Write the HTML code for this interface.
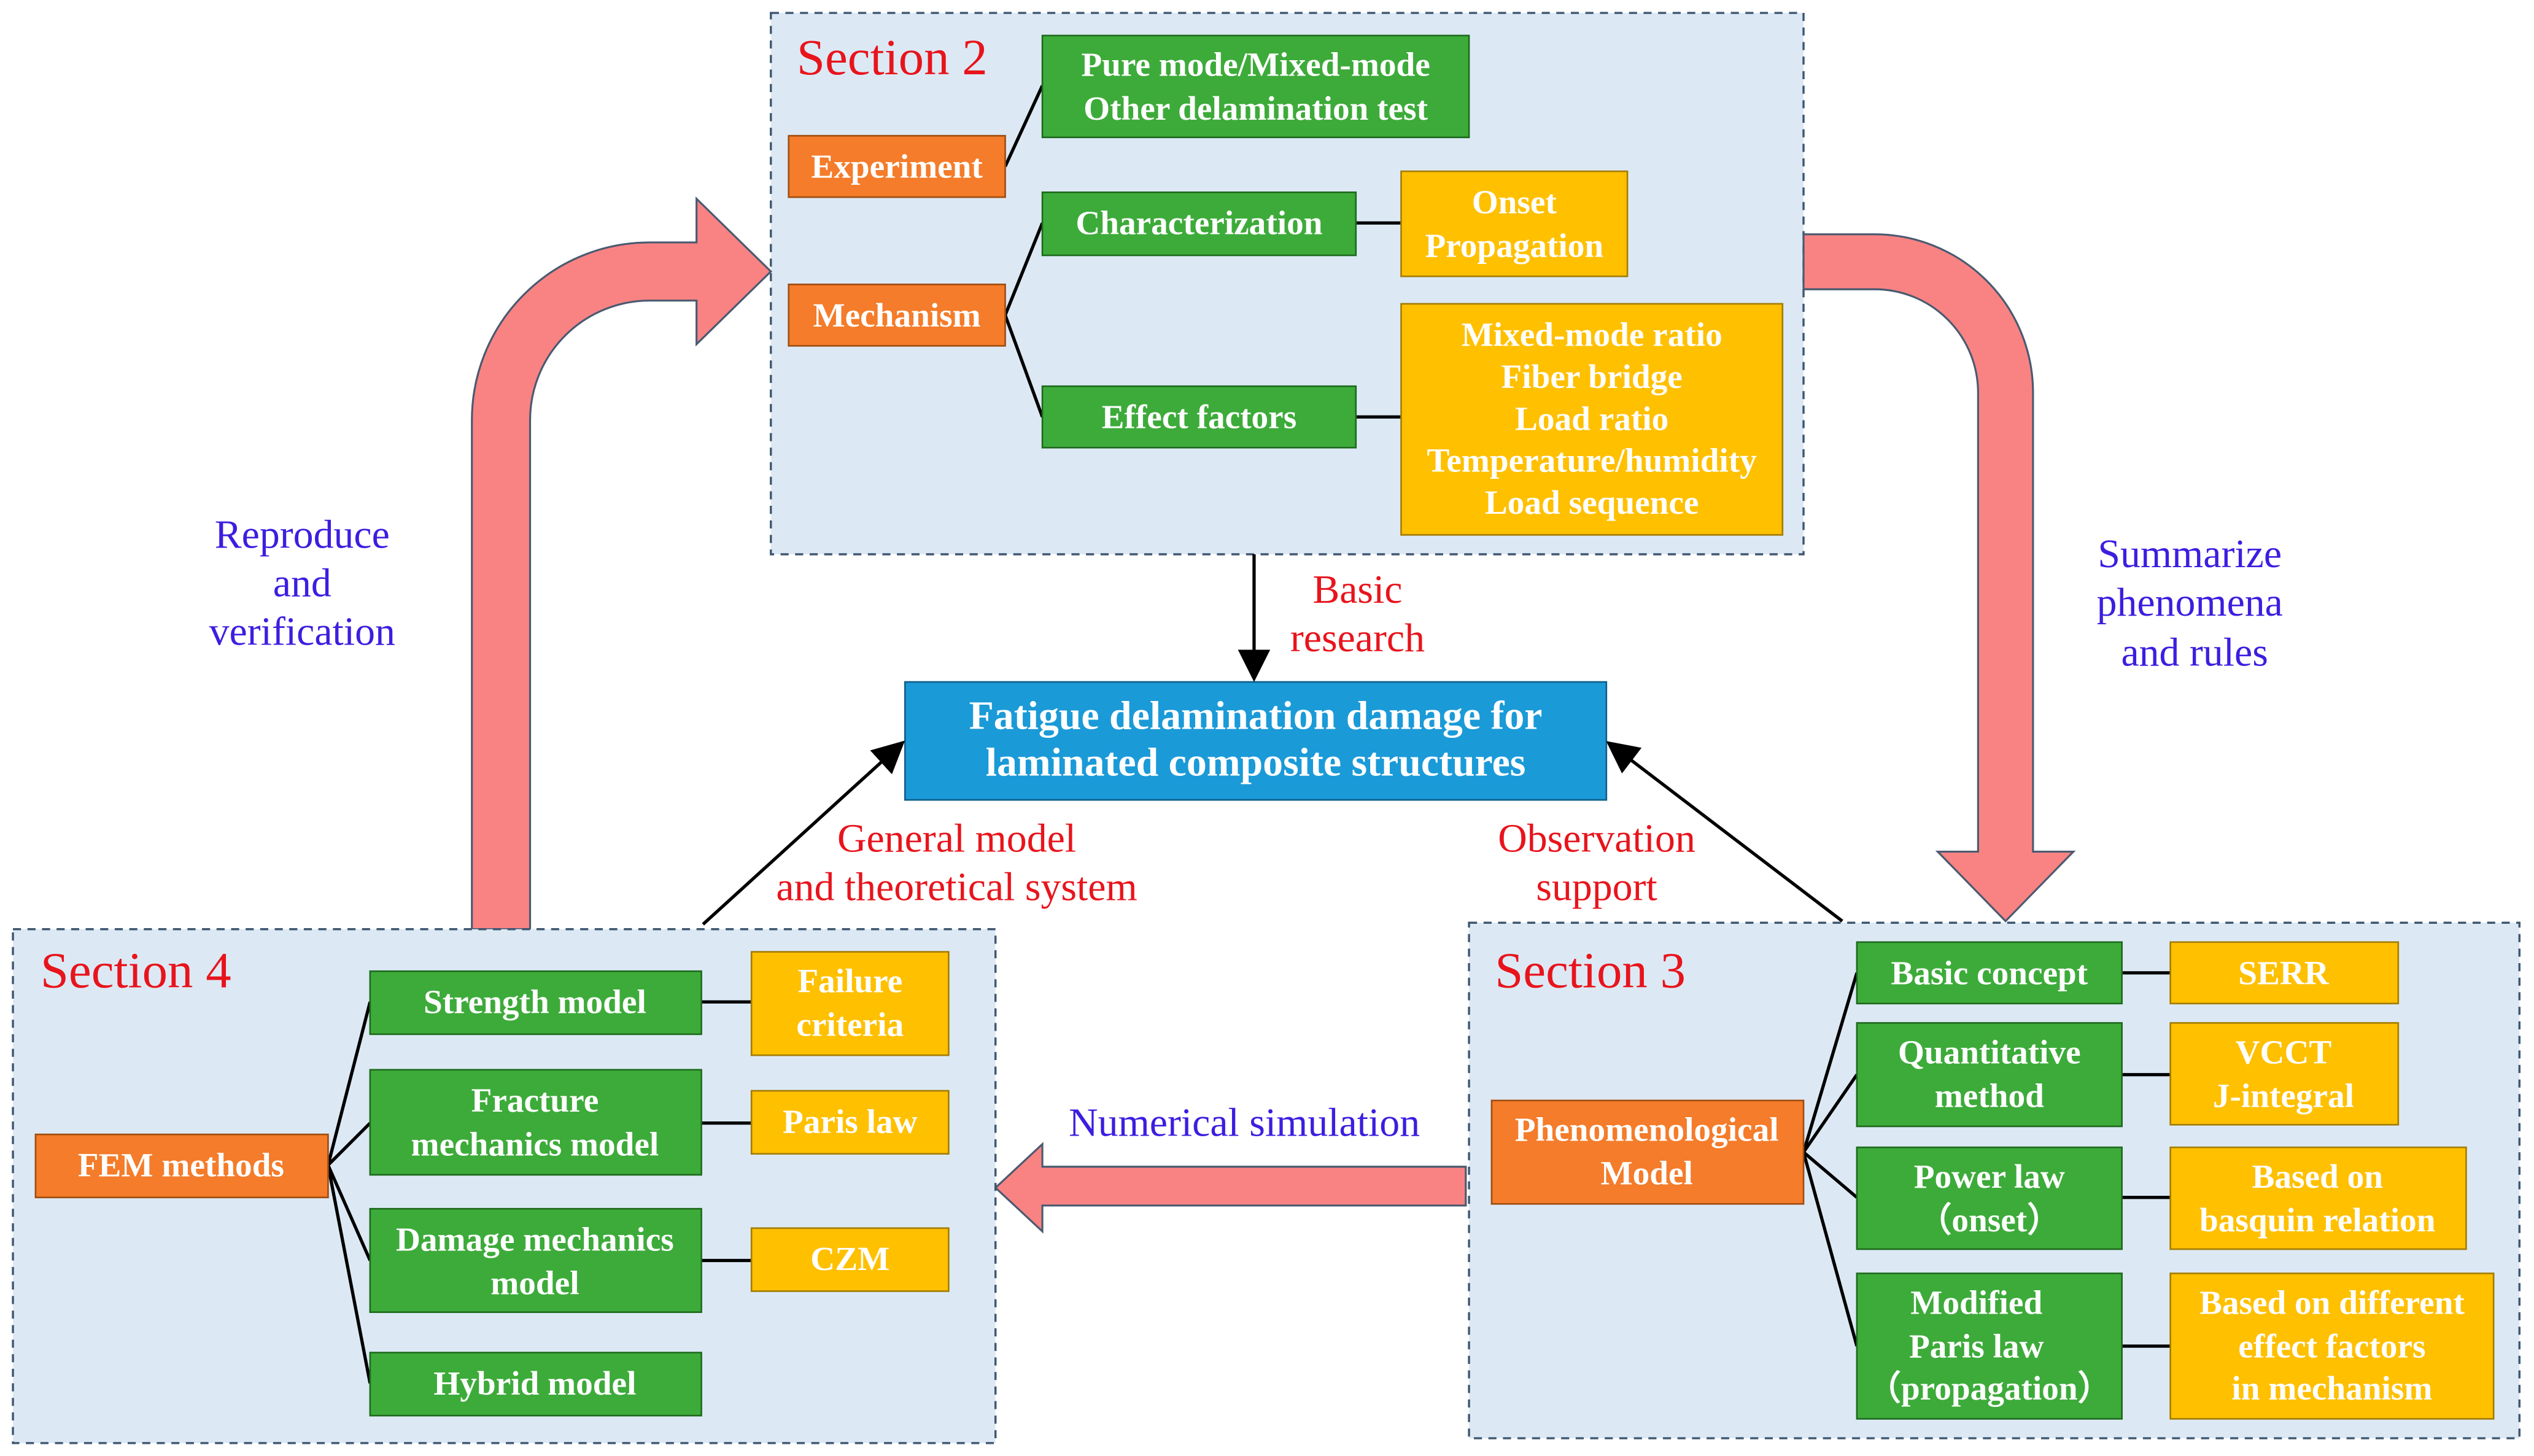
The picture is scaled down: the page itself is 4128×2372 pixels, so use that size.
<!DOCTYPE html>
<html><head><meta charset="utf-8"><style>
html,body{margin:0;padding:0;background:#fff;}
svg{display:block;}
text{font-family:"Liberation Serif",serif;}
.bt{fill:#fff;font-weight:bold;font-size:21px;text-anchor:middle;}
.sec{fill:#e8141c;font-size:31.5px;}
.red{fill:#e8141c;font-size:25px;text-anchor:middle;}
.blu{fill:#3b1ee0;font-size:25px;text-anchor:middle;}
.or{fill:#f47c2a;stroke:#a04d10;stroke-width:1;}
.gr{fill:#3dab3a;stroke:#1e6a1d;stroke-width:1;}
.ye{fill:#ffc000;stroke:#a47c00;stroke-width:1;}
.sb{fill:#dce9f5;stroke:#3f5770;stroke-width:1.3;stroke-dasharray:5,4;}
.ln{stroke:#000;stroke-width:2;fill:none;}
.pk{fill:#f98383;stroke:#4a5a70;stroke-width:1.2;}
</style></head><body>
<svg width="4128" height="2372" viewBox="0 0 1568 901" preserveAspectRatio="none" xmlns="http://www.w3.org/2000/svg">
<defs>
<marker id="ah2" markerWidth="20" markerHeight="20" refX="16" refY="10" orient="auto" markerUnits="userSpaceOnUse"><path d="M0,0 L20,10 L0,20 Z" fill="#000"/></marker></defs>

<rect class="sb" x="477" y="8" width="639" height="335"/>
<text class="sec" x="493" y="46">Section 2</text>
<line class="ln" x1="622" y1="103" x2="645" y2="53"/>
<line class="ln" x1="622" y1="195" x2="645" y2="138"/>
<line class="ln" x1="622" y1="195" x2="645" y2="258"/>
<line class="ln" x1="839" y1="138" x2="867" y2="138"/>
<line class="ln" x1="839" y1="258" x2="867" y2="258"/>
<rect class="or" x="488" y="84" width="134" height="38"/><text class="bt" x="555" y="110">Experiment</text>
<rect class="or" x="488" y="176" width="134" height="38"/><text class="bt" x="555" y="202">Mechanism</text>
<rect class="gr" x="645" y="22" width="264" height="63"/><text class="bt" x="777" y="47">Pure mode/Mixed-mode</text><text class="bt" x="777" y="74">Other delamination test</text>
<rect class="gr" x="645" y="119" width="194" height="39"/><text class="bt" x="742" y="145">Characterization</text>
<rect class="gr" x="645" y="239" width="194" height="38"/><text class="bt" x="742" y="265">Effect factors</text>
<rect class="ye" x="867" y="106" width="140" height="65"/><text class="bt" x="937" y="132">Onset</text><text class="bt" x="937" y="159">Propagation</text>
<rect class="ye" x="867" y="188" width="236" height="143"/>
<text class="bt" x="985" y="214">Mixed-mode ratio</text><text class="bt" x="985" y="240">Fiber bridge</text><text class="bt" x="985" y="266">Load ratio</text><text class="bt" x="985" y="292">Temperature/humidity</text><text class="bt" x="985" y="318">Load sequence</text>

<rect x="560" y="422" width="434" height="73" fill="#1b9ad8" stroke="#0f5f8a" stroke-width="1"/>
<text class="bt" style="font-size:25px" x="777" y="451">Fatigue delamination damage for</text>
<text class="bt" style="font-size:25px" x="777" y="480">laminated composite structures</text>
<line class="ln" x1="776" y1="343" x2="776" y2="418" marker-end="url(#ah2)"/>
<line class="ln" x1="435" y1="572" x2="557" y2="461" marker-end="url(#ah2)"/>
<line class="ln" x1="1140" y1="570" x2="997" y2="461" marker-end="url(#ah2)"/>
<text class="red" x="840" y="373">Basic</text><text class="red" x="840" y="403">research</text>
<text class="red" x="592" y="527">General model</text><text class="red" x="592" y="557">and theoretical system</text>
<text class="red" x="988" y="527">Observation</text><text class="red" x="988" y="557">support</text>

<path class="pk" d="M292,575 L292,260 A110,110 0 0 1 402,150 L431,150 L431,123 L477,168 L431,213 L431,186 L402,186 A74,74 0 0 0 328,260 L328,575 Z"/>
<path class="pk" d="M1116,145 L1160,145 A98,98 0 0 1 1258,243 L1258,527 L1283,527 L1241,570 L1199,527 L1224,527 L1224,243 A64,64 0 0 0 1160,179 L1116,179 Z"/>
<path class="pk" d="M907,722 L645,722 L645,708 L616,735 L645,762 L645,746 L907,746 Z"/>
<text class="blu" x="187" y="339">Reproduce</text><text class="blu" x="187" y="369">and</text><text class="blu" x="187" y="399">verification</text>
<text class="blu" x="1355" y="351">Summarize</text><text class="blu" x="1355" y="381">phenomena</text><text class="blu" x="1358" y="412">and rules</text>
<text class="blu" x="770" y="703">Numerical simulation</text>

<rect class="sb" x="8" y="575" width="608" height="318"/>
<text class="sec" x="25" y="611">Section 4</text>
<line class="ln" x1="203" y1="721" x2="229" y2="620"/>
<line class="ln" x1="203" y1="721" x2="229" y2="695"/>
<line class="ln" x1="203" y1="721" x2="229" y2="780"/>
<line class="ln" x1="203" y1="721" x2="229" y2="856"/>
<line class="ln" x1="434" y1="620" x2="465" y2="620"/>
<line class="ln" x1="434" y1="695" x2="465" y2="695"/>
<line class="ln" x1="434" y1="780" x2="465" y2="780"/>
<rect class="or" x="22" y="702" width="181" height="39"/><text class="bt" x="112" y="728">FEM methods</text>
<rect class="gr" x="229" y="601" width="205" height="39"/><text class="bt" x="331" y="627">Strength model</text>
<rect class="gr" x="229" y="662" width="205" height="65"/><text class="bt" x="331" y="688">Fracture</text><text class="bt" x="331" y="715">mechanics model</text>
<rect class="gr" x="229" y="748" width="205" height="64"/><text class="bt" x="331" y="774">Damage mechanics</text><text class="bt" x="331" y="801">model</text>
<rect class="gr" x="229" y="837" width="205" height="39"/><text class="bt" x="331" y="863">Hybrid model</text>
<rect class="ye" x="465" y="589" width="122" height="64"/><text class="bt" x="526" y="614">Failure</text><text class="bt" x="526" y="641">criteria</text>
<rect class="ye" x="465" y="675" width="122" height="39"/><text class="bt" x="526" y="701">Paris law</text>
<rect class="ye" x="465" y="760" width="122" height="39"/><text class="bt" x="526" y="786">CZM</text>

<rect class="sb" x="909" y="571" width="650" height="319"/>
<text class="sec" x="925" y="611">Section 3</text>
<line class="ln" x1="1116" y1="713" x2="1149" y2="602"/>
<line class="ln" x1="1116" y1="713" x2="1149" y2="665"/>
<line class="ln" x1="1116" y1="713" x2="1149" y2="741"/>
<line class="ln" x1="1116" y1="713" x2="1149" y2="833"/>
<line class="ln" x1="1313" y1="602" x2="1343" y2="602"/>
<line class="ln" x1="1313" y1="665" x2="1343" y2="665"/>
<line class="ln" x1="1313" y1="741" x2="1343" y2="741"/>
<line class="ln" x1="1313" y1="833" x2="1343" y2="833"/>
<rect class="or" x="923" y="681" width="193" height="64"/><text class="bt" x="1019" y="706">Phenomenological</text><text class="bt" x="1019" y="733">Model</text>
<rect class="gr" x="1149" y="583" width="164" height="38"/><text class="bt" x="1231" y="609">Basic concept</text>
<rect class="gr" x="1149" y="633" width="164" height="64"/><text class="bt" x="1231" y="658">Quantitative</text><text class="bt" x="1231" y="685">method</text>
<rect class="gr" x="1149" y="710" width="164" height="63"/><text class="bt" x="1231" y="735">Power law</text><text class="bt" x="1231" y="762">（onset）</text>
<rect class="gr" x="1149" y="788" width="164" height="90"/><text class="bt" x="1223" y="813">Modified</text><text class="bt" x="1223" y="840">Paris law</text><text class="bt" x="1231" y="866">（propagation）</text>
<rect class="ye" x="1343" y="583" width="141" height="38"/><text class="bt" x="1413" y="609">SERR</text>
<rect class="ye" x="1343" y="633" width="141" height="63"/><text class="bt" x="1413" y="658">VCCT</text><text class="bt" x="1413" y="685">J-integral</text>
<rect class="ye" x="1343" y="710" width="183" height="63"/><text class="bt" x="1434" y="735">Based on</text><text class="bt" x="1434" y="762">basquin relation</text>
<rect class="ye" x="1343" y="788" width="200" height="90"/><text class="bt" x="1443" y="813">Based on different</text><text class="bt" x="1443" y="840">effect factors</text><text class="bt" x="1443" y="866">in mechanism</text>
</svg>
</body></html>
